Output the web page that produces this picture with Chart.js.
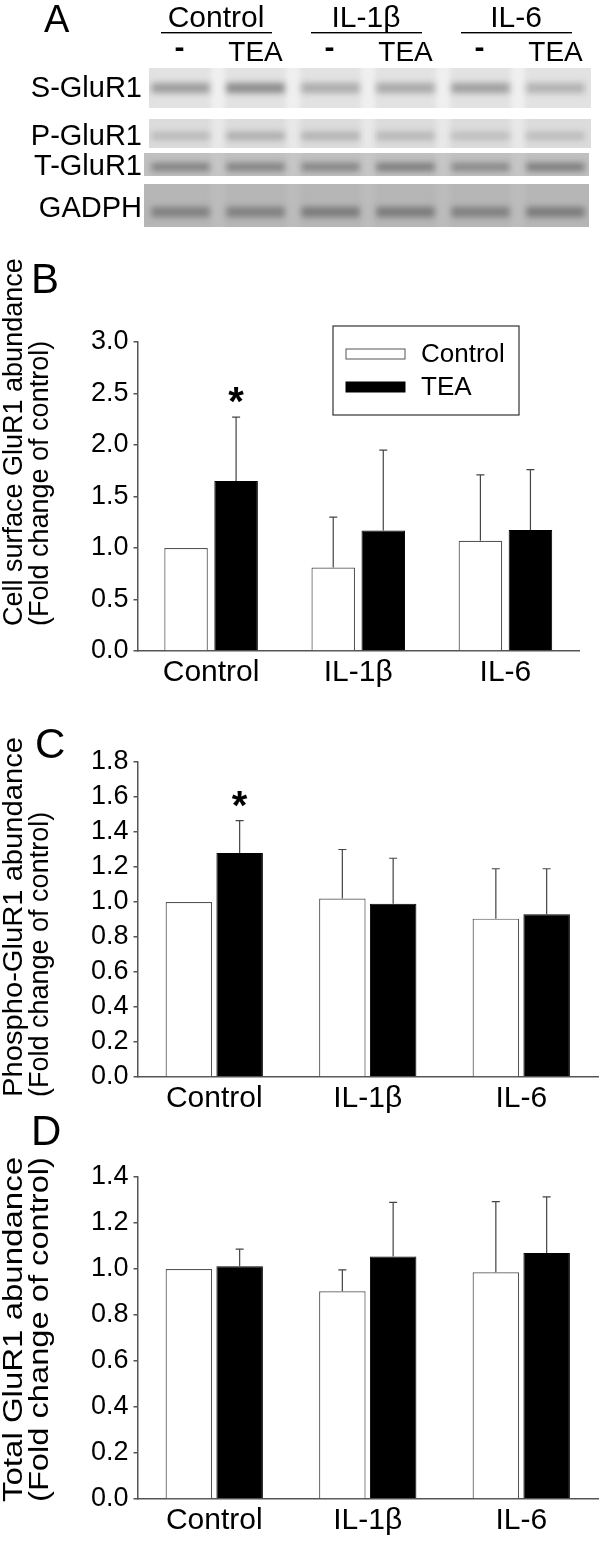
<!DOCTYPE html>
<html>
<head>
<meta charset="utf-8">
<script src="https://cdn.jsdelivr.net/npm/chart.js@4/dist/chart.umd.min.js"></script>
<style>
  html, body { margin: 0; padding: 0; background: #fff; }
  #page { position: relative; width: 600px; height: 1542px; overflow: hidden; }
  #page canvas { position: absolute; left: 0; }
</style>
</head>
<body>
<div id="page">
  <canvas id="blot" width="600" height="245" style="top:0;width:600px;height:245px"></canvas>
  <canvas id="chartB" width="600" height="460" style="top:250px;width:600px;height:460px"></canvas>
  <canvas id="chartC" width="600" height="430" style="top:700px;width:600px;height:430px"></canvas>
  <canvas id="chartD" width="600" height="442" style="top:1100px;width:600px;height:442px"></canvas>
</div>
<script>
const FAMILY = '"Liberation Sans", Arial, Helvetica, sans-serif';

// categories
const groups = ['Control', 'IL-1β', 'IL-6'];
const laneLabels = ['-', 'TEA', '-', 'TEA', '-', 'TEA'];
const blotNames = ['S-GluR1', 'P-GluR1', 'T-GluR1', 'GADPH'];

// band darkness per lane (0 = none, 1 = black)
const bandS = [0.55, 0.68, 0.42, 0.45, 0.52, 0.38];
const bandP = [0.28, 0.38, 0.34, 0.3, 0.25, 0.27];
const bandT = [0.5, 0.5, 0.48, 0.55, 0.45, 0.55];
const bandG = [0.42, 0.42, 0.47, 0.47, 0.42, 0.47];

// B: cell surface GluR1
const surfaceCtrl = [1.0, 0.81, 1.07];
const surfaceCtrlErr = [0, 0.49, 0.64];
const surfaceTEA = [1.65, 1.17, 1.175];
const surfaceTEAErr = [0.62, 0.78, 0.585];
const surfaceStar = [true, false, false];

// C: phospho GluR1
const phosphoCtrl = [1.0, 1.02, 0.905];
const phosphoCtrlErr = [0, 0.28, 0.285];
const phosphoTEA = [1.28, 0.99, 0.93];
const phosphoTEAErr = [0.185, 0.26, 0.26];
const phosphoStar = [true, false, false];

// D: total GluR1
const totalCtrl = [1.0, 0.903, 0.986];
const totalCtrlErr = [0, 0.093, 0.307];
const totalTEA = [1.012, 1.054, 1.07];
const totalTEAErr = [0.074, 0.236, 0.244];
const totalStar = [false, false, false];

Chart.defaults.font.family = FAMILY;
Chart.defaults.color = '#000';

// ---------- panel A (blots) ----------
const blotRows = [
  { bands: bandS, y0: 68, y1: 108, x0: 149, x1: 591, bg: 226, bandY: 88, bandH: 10, gaps: 14, labelY: 97 },
  { bands: bandP, y0: 119, y1: 148, x0: 149, x1: 591, bg: 220, bandY: 136, bandH: 8, gaps: 12, labelY: 145 },
  { bands: bandT, y0: 153, y1: 176, x0: 144, x1: 589, bg: 192, bandY: 167, bandH: 8, gaps: 6, labelY: 175 },
  { bands: bandG, y0: 184, y1: 227, x0: 144, x1: 589, bg: 182, bandY: 212, bandH: 10, gaps: 6, labelY: 217 }
];

const blotPlugin = {
  id: 'blotPlugin',
  afterDraw(chart) {
    const ctx = chart.ctx;
    const x = chart.scales.x;
    ctx.save();
    ctx.fillStyle = '#000';
    ctx.textBaseline = 'alphabetic';
    ctx.textAlign = 'left';
    ctx.font = '38px ' + FAMILY;
    ctx.fillText('A', 44, 32);

    // group headers with underline
    ctx.textAlign = 'center';
    groups.forEach((g, i) => {
      const cx = (x.getPixelForValue(2 * i) + x.getPixelForValue(2 * i + 1)) / 2;
      ctx.font = '30px ' + FAMILY;
      ctx.fillText(g, cx - 2, 27);
      ctx.fillRect(cx - 57, 32, 111, 1.4);
    });
    laneLabels.forEach((l, i) => {
      const cx = x.getPixelForValue(i);
      if (l === '-') {
        ctx.font = 'bold 30px ' + FAMILY;
        ctx.fillText(l, cx - 1, 57);
      } else {
        ctx.font = '28px ' + FAMILY;
        ctx.fillText(l, cx, 61);
      }
    });

    // strips
    blotRows.forEach((r, k) => {
      ctx.save();
      ctx.beginPath();
      ctx.rect(r.x0, r.y0, r.x1 - r.x0, r.y1 - r.y0);
      ctx.clip();
      ctx.fillStyle = `rgb(${r.bg},${r.bg},${r.bg})`;
      ctx.fillRect(r.x0, r.y0, r.x1 - r.x0, r.y1 - r.y0);
      ctx.filter = 'blur(3px)';
      // lighter columns between lanes
      const light = Math.min(255, r.bg + r.gaps);
      ctx.fillStyle = `rgb(${light},${light},${light})`;
      for (let i = 0; i < laneLabels.length - 1; i++) {
        const mx = (x.getPixelForValue(i) + x.getPixelForValue(i + 1)) / 2;
        ctx.fillRect(mx - 7, r.y0 - 5, 14, r.y1 - r.y0 + 10);
      }
      r.bands.forEach((d, i) => {
        const cx = x.getPixelForValue(i);
        const g = Math.round(r.bg - d * 130);
        ctx.fillStyle = `rgb(${g},${g},${g})`;
        ctx.fillRect(cx - 29, r.bandY - r.bandH / 2, 58, r.bandH);
      });
      ctx.restore();

      ctx.fillStyle = '#000';
      ctx.font = '29px ' + FAMILY;
      ctx.textAlign = 'right';
      ctx.fillText(blotNames[k], 142, r.labelY);
    });
    ctx.restore();
  }
};

new Chart(document.getElementById('blot'), {
  type: 'bar',
  data: { labels: laneLabels, datasets: [] },
  options: {
    responsive: false,
    animation: false,
    layout: { padding: { left: 143, right: 7, top: 0, bottom: 0 } },
    plugins: { legend: { display: false }, tooltip: { enabled: false } },
    scales: { x: { display: false }, y: { display: false } }
  },
  plugins: [blotPlugin]
});

// ---------- panels B, C, D ----------
const errorBars = {
  id: 'errorBars',
  afterDatasetsDraw(chart) {
    const ctx = chart.ctx;
    const y = chart.scales.y;
    ctx.save();
    ctx.strokeStyle = '#444';
    ctx.lineWidth = 1.2;
    chart.data.datasets.forEach((ds, i) => {
      chart.getDatasetMeta(i).data.forEach((bar, j) => {
        const e = ds.errors[j];
        if (e) {
          const top = y.getPixelForValue(ds.data[j] + e);
          ctx.beginPath();
          ctx.moveTo(bar.x, bar.y);
          ctx.lineTo(bar.x, top);
          ctx.moveTo(bar.x - 4, top);
          ctx.lineTo(bar.x + 4, top);
          ctx.stroke();
        }
        if (ds.stars && ds.stars[j]) {
          const top = y.getPixelForValue(ds.data[j] + (e || 0));
          ctx.fillStyle = '#000';
          ctx.font = 'bold 40px ' + FAMILY;
          ctx.textAlign = 'center';
          ctx.textBaseline = 'alphabetic';
          ctx.fillText('*', bar.x, top - 25 + 23);
        }
      });
    });
    ctx.restore();
  }
};

const panelText = {
  id: 'panelText',
  afterDraw(chart, args, o) {
    const ctx = chart.ctx;
    ctx.save();
    ctx.fillStyle = '#000';
    ctx.textBaseline = 'alphabetic';
    ctx.textAlign = 'left';
    ctx.font = '42px ' + FAMILY;
    ctx.fillText(o.letter, o.letterX, o.letterY);

    // two-line rotated y title, both lines starting at the same bottom
    ctx.font = '27px ' + FAMILY;
    o.title.forEach((line, i) => {
      const natural = ctx.measureText(line).width;
      const len = o.titleLen[i] || natural;
      ctx.save();
      ctx.translate(i === 0 ? 22 : 48, o.titleBottom);
      ctx.rotate(-Math.PI / 2);
      ctx.scale(len / natural, 1);
      ctx.fillText(line, 0, 0);
      ctx.restore();
    });

    if (o.legend) {
      const L = o.legend;
      ctx.strokeStyle = '#333';
      ctx.lineWidth = 1.2;
      ctx.strokeRect(L.x, L.y, L.w, L.h);
      chart.data.datasets.forEach((ds, i) => {
        const sy = L.y + 28 + i * 33;
        ctx.fillStyle = ds.backgroundColor;
        ctx.fillRect(L.x + 13, sy - 5, 59, 10);
        ctx.strokeStyle = ds.borderColor;
        ctx.lineWidth = 1;
        ctx.strokeRect(L.x + 13, sy - 5, 59, 10);
        ctx.fillStyle = '#000';
        ctx.textAlign = 'left';
        ctx.textBaseline = 'middle';
        ctx.font = '26px ' + FAMILY;
        ctx.fillText(ds.label, L.x + 88, sy + 1);
      });
    }
    ctx.restore();
  }
};

function makePanel(id, cfg) {
  return new Chart(document.getElementById(id), {
    type: 'bar',
    data: {
      labels: groups,
      datasets: [
        { label: 'Control', data: cfg.ctrl, errors: cfg.ctrlErr, backgroundColor: '#ffffff', borderColor: '#555555', borderWidth: 1.2 },
        { label: 'TEA', data: cfg.tea, errors: cfg.teaErr, stars: cfg.stars, backgroundColor: '#000000', borderColor: '#000000', borderWidth: 1 }
      ]
    },
    options: {
      responsive: false,
      animation: false,
      layout: { padding: { left: 0, right: cfg.padRight, top: cfg.padTop, bottom: 0 } },
      datasets: { bar: { categoryPercentage: cfg.catPct, barPercentage: cfg.barPct } },
      plugins: {
        legend: { display: false },
        tooltip: { enabled: false },
        panelText: cfg.text
      },
      scales: {
        x: {
          grid: { display: false, drawTicks: false },
          border: { display: true, color: '#555', width: 1.5 },
          ticks: { font: { size: 30 }, color: '#000', padding: 4 },
          afterFit: s => { s.height = cfg.xHeight; }
        },
        y: {
          min: 0,
          max: cfg.max,
          ticks: { stepSize: cfg.step, autoSkip: false, font: { size: 27 }, color: '#000', padding: 5, callback: v => v.toFixed(1) },
          grid: { drawOnChartArea: false, drawTicks: true, tickLength: 4, color: '#555', lineWidth: 1.5 },
          border: { display: true, color: '#555', width: 1.5 },
          afterFit: s => { s.width = 137.5; }
        }
      }
    },
    plugins: [errorBars, panelText]
  });
}

makePanel('chartB', {
  ctrl: surfaceCtrl, ctrlErr: surfaceCtrlErr, tea: surfaceTEA, teaErr: surfaceTEAErr, stars: surfaceStar,
  max: 3.0, step: 0.5, padTop: 92, padRight: 21, xHeight: 59, catPct: 0.68, barPct: 0.87,
  text: {
    letter: 'B', letterX: 31, letterY: 43,
    title: ['Cell surface GluR1 abundance', '(Fold change of control)'], titleBottom: 376, titleLen: [0, 0],
    legend: { x: 333, y: 76, w: 186, h: 89 }
  }
});

makePanel('chartC', {
  ctrl: phosphoCtrl, ctrlErr: phosphoCtrlErr, tea: phosphoTEA, teaErr: phosphoTEAErr, stars: phosphoStar,
  max: 1.8, step: 0.2, padTop: 62, padRight: 2, xHeight: 53, catPct: 0.662, barPct: 0.915,
  text: {
    letter: 'C', letterX: 35, letterY: 58,
    title: ['Phospho-GluR1 abundance', '(Fold change of control)'], titleBottom: 397, titleLen: [360, 0]
  }
});

makePanel('chartD', {
  ctrl: totalCtrl, ctrlErr: totalCtrlErr, tea: totalTEA, teaErr: totalTEAErr, stars: totalStar,
  max: 1.4, step: 0.2, padTop: 77, padRight: 2, xHeight: 43, catPct: 0.662, barPct: 0.915,
  text: {
    letter: 'D', letterX: 31, letterY: 45,
    title: ['Total GluR1 abundance', '(Fold change of control)'], titleBottom: 402, titleLen: [345, 345]
  }
});
</script>
</body>
</html>
